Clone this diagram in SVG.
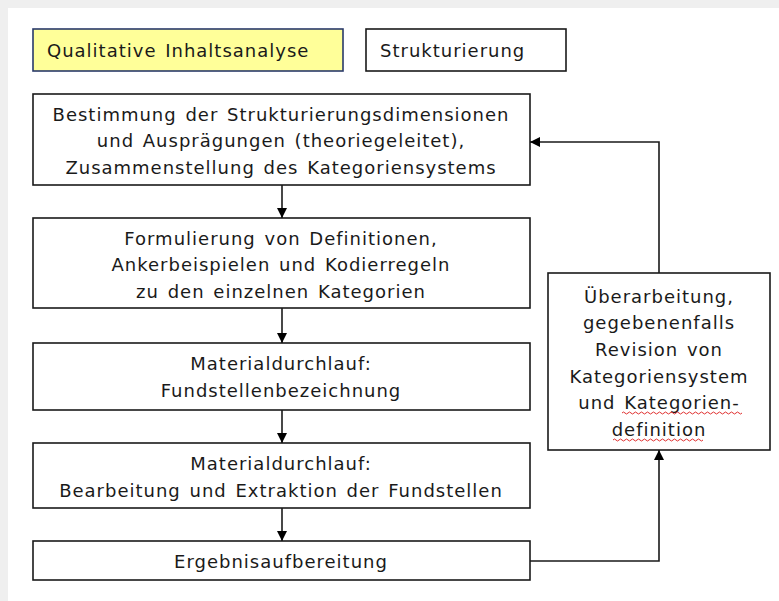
<svg xmlns="http://www.w3.org/2000/svg" width="779" height="601" viewBox="0 0 779 601">
<defs>
<style>
.box{fill:#fff;stroke:#1a1a1a;stroke-width:1.6}
.hl{fill:#ffff99;stroke:#2a3a6a;stroke-width:1.6}
.t{font-family:"DejaVu Sans",Verdana,sans-serif;font-size:18px;letter-spacing:1px;word-spacing:2px;fill:#1a1a1a;text-anchor:middle}
.tl{font-family:"DejaVu Sans",Verdana,sans-serif;font-size:18px;letter-spacing:1px;word-spacing:2px;fill:#1a1a1a}
.c{fill:none;stroke:#1a1a1a;stroke-width:1.6}
.sq{fill:none;stroke:#e03030;stroke-width:1}
</style>
<marker id="ah" viewBox="0 0 10 10" refX="10" refY="5" markerWidth="10" markerHeight="10" markerUnits="userSpaceOnUse" orient="auto">
<path d="M0,0 L10,5 L0,10 Z" fill="#000"/>
</marker>
</defs>
<rect x="0" y="0" width="779" height="601" fill="#efefef"/>
<rect x="8" y="8" width="771" height="593" fill="#fff"/>

<g id="header-qia">
<rect class="hl" x="33" y="29" width="310" height="42"/>
<text class="tl" x="47" y="57">Qualitative  Inhaltsanalyse</text>
</g>
<g id="header-struk">
<rect class="box" x="366" y="29" width="200" height="42"/>
<text class="tl" x="380" y="57">Strukturierung</text>
</g>

<g id="n1">
<rect class="box" x="33" y="94" width="497" height="91"/>
<text class="t" x="281" y="121">Bestimmung der Strukturierungsdimensionen</text>
<text class="t" x="281" y="147">und Ausprägungen (theoriegeleitet),</text>
<text class="t" x="281" y="174">Zusammenstellung des Kategoriensystems</text>
</g>
<g id="n2">
<rect class="box" x="33" y="218" width="497" height="90"/>
<text class="t" x="281" y="245">Formulierung von Definitionen,</text>
<text class="t" x="281" y="271">Ankerbeispielen und Kodierregeln</text>
<text class="t" x="281" y="298">zu den einzelnen Kategorien</text>
</g>
<g id="n3">
<rect class="box" x="33" y="343" width="497" height="67"/>
<text class="t" x="281" y="370">Materialdurchlauf:</text>
<text class="t" x="281" y="397">Fundstellenbezeichnung</text>
</g>
<g id="n4">
<rect class="box" x="33" y="443" width="497" height="65"/>
<text class="t" x="281" y="470">Materialdurchlauf:</text>
<text class="t" x="281" y="497">Bearbeitung und Extraktion der Fundstellen</text>
</g>
<g id="n5">
<rect class="box" x="33" y="541" width="497" height="39"/>
<text class="t" x="281" y="568">Ergebnisaufbereitung</text>
</g>
<g id="n6">
<rect class="box" x="548" y="273" width="222" height="177"/>
<text class="t" x="659" y="303">Überarbeitung,</text>
<text class="t" x="659" y="329">gegebenenfalls</text>
<text class="t" x="659" y="356">Revision von</text>
<text class="t" x="659" y="383">Kategoriensystem</text>
<text class="t" x="659" y="409">und Kategorien-</text>
<text class="t" x="659" y="436">definition</text>
<path class="sq" d="M622,413 q1.5,-2 3,0 t3,0 t3,0 t3,0 t3,0 t3,0 t3,0 t3,0 t3,0 t3,0 t3,0 t3,0 t3,0 t3,0 t3,0 t3,0 t3,0 t3,0 t3,0 t3,0 t3,0 t3,0 t3,0 t3,0 t3,0 t3,0 t3,0 t3,0 t3,0 t3,0 t3,0 t3,0 t3,0 t3,0 t3,0 t3,0 t3,0 t3,0 t3,0 t3,0"/>
<path class="sq" d="M613,440 q1.5,-2 3,0 t3,0 t3,0 t3,0 t3,0 t3,0 t3,0 t3,0 t3,0 t3,0 t3,0 t3,0 t3,0 t3,0 t3,0 t3,0 t3,0 t3,0 t3,0 t3,0 t3,0 t3,0 t3,0 t3,0 t3,0 t3,0 t3,0 t3,0 t3,0 t3,0"/>
</g>

<g id="connectors">
<line class="c" x1="282" y1="185" x2="282" y2="218" marker-end="url(#ah)"/>
<line class="c" x1="282" y1="308" x2="282" y2="343" marker-end="url(#ah)"/>
<line class="c" x1="282" y1="410" x2="282" y2="443" marker-end="url(#ah)"/>
<line class="c" x1="282" y1="508" x2="282" y2="541" marker-end="url(#ah)"/>
<polyline class="c" points="530,561 659,561 659,450" marker-end="url(#ah)"/>
<polyline class="c" points="659,273 659,142 530,142" marker-end="url(#ah)"/>
</g>
</svg>
